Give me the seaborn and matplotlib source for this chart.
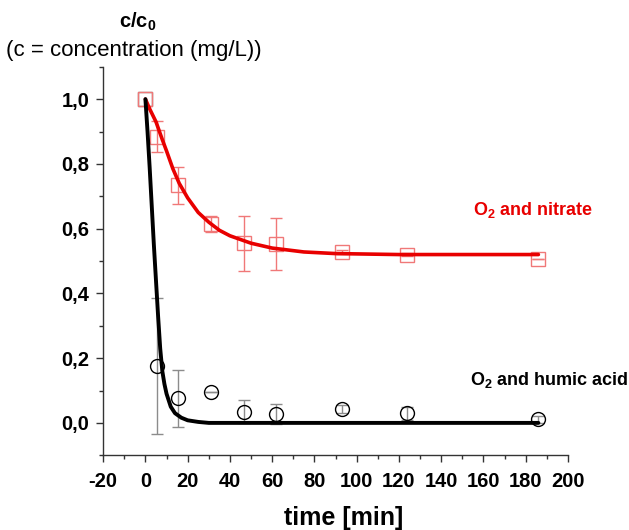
import numpy as np
import matplotlib
matplotlib.use("Agg")
import matplotlib.pyplot as plt
from matplotlib.ticker import MultipleLocator, FuncFormatter
import seaborn as sns

# measured points (time in min, c/c0, error)
nitrate_time = [0, 5.5, 15.5, 31, 46.5, 62, 93, 124, 186]
nitrate_val = [1.0, 0.884, 0.734, 0.614, 0.555, 0.553, 0.527, 0.520, 0.506]
nitrate_err = [0.0, 0.048, 0.057, 0.025, 0.085, 0.080, 0.006, 0.006, 0.0]

humic_time = [0, 5.5, 15.5, 31, 46.5, 62, 93, 124, 186]
humic_val = [1.0, 0.177, 0.076, 0.095, 0.035, 0.027, 0.042, 0.030, 0.011]
humic_err = [0.0, 0.210, 0.088, 0.0, 0.035, 0.030, 0.012, 0.020, 0.010]

# fitted curves
nitrate_fit_t = [0, 2, 5, 8, 10, 13, 16, 20, 25, 30, 35, 40, 50, 60, 75, 90, 120, 150, 186]
nitrate_fit_y = [1.0, 0.97, 0.93, 0.875, 0.84, 0.785, 0.74, 0.695, 0.65, 0.62, 0.595,
                 0.578, 0.555, 0.54, 0.528, 0.523, 0.52, 0.52, 0.52]
humic_fit_t = [0, 1, 2, 3, 4, 5, 6, 7, 8, 9, 10, 12, 14, 17, 20, 25, 30, 186]
humic_fit_y = [1.0, 0.90, 0.79, 0.67, 0.55, 0.44, 0.33, 0.23, 0.16, 0.12, 0.09, 0.05,
               0.03, 0.016, 0.008, 0.003, 0.0, 0.0]

x_ticks = list(range(-20, 201, 20))
y_ticks = [0.0, 0.2, 0.4, 0.6, 0.8, 1.0]

sns.set_theme(style="ticks")
plt.rcParams['font.family'] = ['Liberation Sans', 'DejaVu Sans']
plt.rcParams['mathtext.fontset'] = 'custom'
plt.rcParams['mathtext.rm'] = 'Liberation Sans'
plt.rcParams['mathtext.bf'] = 'Liberation Sans:bold'
plt.rcParams['mathtext.it'] = 'Liberation Sans:italic'
plt.rcParams['text.color'] = 'black'
plt.rcParams['xtick.labelcolor'] = 'black'
plt.rcParams['ytick.labelcolor'] = 'black'

fig = plt.figure(figsize=(6.29, 5.30), dpi=100)
ax = fig.add_axes([0.164, 0.141, 0.739, 0.733])

red_light = '#f07878'
grey = '#8c8c8c'

# error bars + markers
ax.errorbar(nitrate_time[1:], nitrate_val[1:], yerr=nitrate_err[1:], fmt='none',
            ecolor=red_light, elinewidth=1.0, capsize=4, capthick=1.0, zorder=2)
ax.errorbar(humic_time[1:], humic_val[1:], yerr=humic_err[1:], fmt='none',
            ecolor=grey, elinewidth=1.0, capsize=4, capthick=1.0, zorder=2)
ax.plot(humic_time[:1], humic_val[:1], ls='none', marker='s', ms=9.5, mfc='none',
        mec='#777777', mew=1.0, zorder=3)
ax.plot(nitrate_time, nitrate_val, ls='none', marker='s', ms=9.5, mfc='none',
        mec=red_light, mew=1.0, zorder=3)
ax.plot(humic_time[1:], humic_val[1:], ls='none', marker='o', ms=10, mfc='none',
        mec='black', mew=1.0, zorder=3)

# fitted curves
sns.lineplot(x=nitrate_fit_t, y=nitrate_fit_y, ax=ax, color='#e80000', lw=2.6,
             sort=False, estimator=None, zorder=4)
sns.lineplot(x=humic_fit_t, y=humic_fit_y, ax=ax, color='black', lw=2.8,
             sort=False, estimator=None, zorder=5)

ax.set_xlim(-20, 200)
ax.set_ylim(-0.1, 1.1)
ax.set_xticks(x_ticks)
ax.set_yticks(y_ticks)
ax.xaxis.set_minor_locator(MultipleLocator(10))
ax.yaxis.set_minor_locator(MultipleLocator(0.1))
ax.xaxis.set_major_formatter(FuncFormatter(lambda v, p: f"{v:.0f}"))
ax.yaxis.set_major_formatter(FuncFormatter(lambda v, p: f"{v:.1f}".replace('.', ',')))
ax.tick_params(which='major', length=5, width=1.0, color='#333333', labelsize=14.5,
               labelcolor='black')
ax.tick_params(axis='x', which='major', pad=7)
ax.tick_params(axis='y', which='major', pad=5)
ax.tick_params(which='minor', length=2.8, width=1.0, color='#333333')
for lab in ax.get_xticklabels() + ax.get_yticklabels():
    lab.set_fontweight('bold')

sns.despine(ax=ax)
for s in ['left', 'bottom']:
    ax.spines[s].set_color('#333333')
    ax.spines[s].set_linewidth(1.0)

ax.set_xlabel('')
ax.set_ylabel('')
fig.text(0.546, 0.022, 'time [min]', fontsize=18, fontweight='bold',
         ha='center', va='center', color='black')

fig.text(0.219, 0.958, r'c/c$_\mathbf{0}$', fontsize=14.5, fontweight='bold',
         ha='center', va='center', color='black')
fig.text(0.213, 0.905, '(c = concentration (mg/L))', fontsize=16,
         ha='center', va='center', color='black')

ax.text(0.796, 0.631, r'O$_\mathbf{2}$ and nitrate', transform=ax.transAxes,
        color='#e80000', fontsize=13, fontweight='bold', ha='left', va='center')
ax.text(0.789, 0.193, r'O$_\mathbf{2}$ and humic acid', transform=ax.transAxes,
        color='black', fontsize=13, fontweight='bold', ha='left', va='center')

fig.savefig('out.png', dpi=100)
